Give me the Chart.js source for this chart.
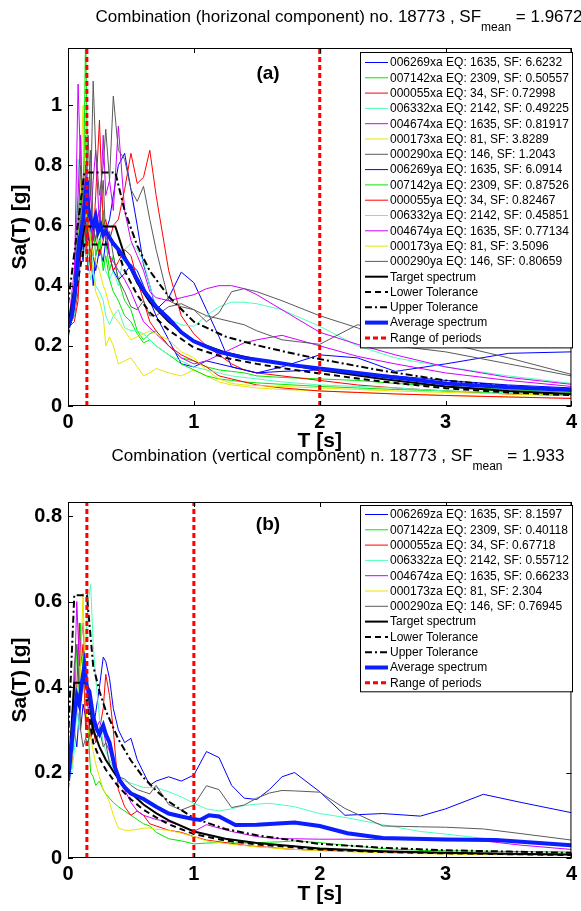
<!DOCTYPE html>
<html>
<head>
<meta charset="utf-8">
<script src="https://cdn.jsdelivr.net/npm/chart.js@4.4.1/dist/chart.umd.min.js"></script>
<style>
  html, body { margin: 0; padding: 0; background: #fff; width: 581px; height: 911px; overflow: hidden; }
  canvas { position: absolute; left: 0; }
  #c1 { top: 0; }
  #c2 { top: 440px; }
</style>
</head>
<body>
<canvas id="c1" width="581" height="455"></canvas>
<canvas id="c2" width="581" height="471"></canvas>
<script>
// ---- horizontal component (a) ----
var periodsH = [0, 0.05, 0.08, 0.1, 0.12, 0.14, 0.16, 0.18, 0.2, 0.22, 0.25, 0.28, 0.3, 0.33, 0.36, 0.4, 0.45, 0.5, 0.55, 0.6, 0.65, 0.7, 0.8, 0.9, 1.0, 1.1, 1.2, 1.3, 1.4, 1.5, 1.7, 2.0, 2.3, 2.6, 3.0, 3.5, 4.0];

var sa006269xa = [0.26,0.30,0.42,0.55,0.48,0.62,0.45,0.52,0.40,0.50,0.55,0.60,0.58,0.62,0.70,0.80,0.84,0.72,0.60,0.47,0.40,0.32,0.36,0.445,0.41,0.32,0.23,0.13,0.12,0.11,0.13,0.17,0.16,0.115,0.14,0.175,0.18];
var sa007142xa = [0.27,0.32,0.45,0.6,0.75,0.9,0.7,0.6,0.55,0.62,0.5,0.65,0.55,0.45,0.5,0.42,0.35,0.32,0.25,0.22,0.24,0.25,0.2,0.16,0.15,0.13,0.12,0.115,0.11,0.1,0.095,0.09,0.085,0.075,0.065,0.055,0.045];
var sa000055xa = [0.26,0.3,0.38,0.5,0.65,0.55,0.6,0.5,0.55,0.7,0.95,0.6,0.62,0.55,0.6,0.62,0.72,0.84,0.74,0.76,0.85,0.7,0.45,0.3,0.24,0.2,0.17,0.14,0.12,0.11,0.1,0.085,0.07,0.06,0.05,0.04,0.035];
var sa006332xa = [0.26,0.35,0.82,0.6,0.55,0.7,0.5,0.55,0.45,0.5,0.55,0.48,0.45,0.42,0.45,0.4,0.52,0.54,0.52,0.48,0.4,0.33,0.29,0.27,0.265,0.3,0.33,0.345,0.345,0.34,0.32,0.265,0.2,0.16,0.13,0.1,0.075];
var sa004674xa = [0.26,0.4,1.07,0.8,0.65,0.75,0.55,0.6,0.75,0.85,0.6,0.9,0.7,0.75,0.65,0.93,0.65,0.55,0.5,0.45,0.38,0.36,0.35,0.36,0.37,0.39,0.4,0.4,0.39,0.37,0.32,0.245,0.205,0.17,0.13,0.095,0.072];
var sa000173xa = [0.26,0.35,0.5,0.75,1.0,0.7,0.55,0.5,0.45,0.38,0.35,0.3,0.2,0.23,0.2,0.14,0.15,0.16,0.13,0.1,0.11,0.125,0.11,0.1,0.12,0.1,0.08,0.07,0.065,0.06,0.055,0.05,0.045,0.04,0.035,0.03,0.027];
var sa000290xa = [0.26,0.38,0.6,0.8,0.65,0.75,0.9,0.7,1.08,0.85,0.7,0.8,0.92,0.75,1.03,0.85,0.82,0.72,0.68,0.73,0.62,0.52,0.35,0.33,0.32,0.28,0.31,0.38,0.39,0.38,0.35,0.3,0.26,0.2,0.18,0.14,0.1];
var sa006269ya = [0.26,0.32,0.48,0.6,0.52,0.7,0.55,0.6,0.5,0.45,0.52,0.48,0.55,0.5,0.45,0.42,0.44,0.47,0.45,0.4,0.35,0.3,0.22,0.14,0.13,0.15,0.14,0.13,0.12,0.11,0.115,0.12,0.11,0.1,0.085,0.07,0.06];
var sa007142ya = [0.26,0.35,0.5,0.7,0.6,1.25,0.65,0.55,0.6,0.5,0.55,0.45,0.5,0.42,0.38,0.35,0.3,0.28,0.24,0.21,0.22,0.2,0.17,0.14,0.12,0.1,0.09,0.085,0.08,0.077,0.072,0.065,0.06,0.055,0.05,0.042,0.035];
var sa000055ya = [0.26,0.28,0.35,0.55,0.7,0.5,0.62,0.45,0.6,0.55,0.5,0.55,0.6,0.5,0.45,0.48,0.52,0.5,0.42,0.35,0.28,0.25,0.2,0.17,0.15,0.13,0.1,0.09,0.08,0.07,0.06,0.05,0.045,0.04,0.035,0.03,0.025];
var sa006332ya = [0.26,0.3,0.42,0.55,0.6,0.5,0.48,0.42,0.45,0.4,0.38,0.35,0.3,0.27,0.3,0.32,0.26,0.25,0.25,0.24,0.22,0.2,0.17,0.15,0.13,0.12,0.11,0.1,0.095,0.09,0.08,0.07,0.065,0.06,0.05,0.045,0.04];
var sa004674ya = [0.26,0.45,0.7,0.9,0.6,0.8,0.65,0.7,0.55,0.6,0.65,0.55,0.6,0.5,0.48,0.45,0.42,0.38,0.33,0.28,0.26,0.24,0.2,0.16,0.14,0.15,0.17,0.19,0.21,0.22,0.235,0.2,0.165,0.14,0.11,0.085,0.065];
var sa000173ya = [0.26,0.33,0.45,0.6,0.75,0.65,0.6,0.55,0.5,0.48,0.45,0.4,0.38,0.33,0.3,0.28,0.25,0.22,0.23,0.24,0.25,0.24,0.22,0.18,0.16,0.12,0.09,0.075,0.07,0.068,0.065,0.06,0.055,0.05,0.045,0.04,0.035];
var sa000290ya = [0.26,0.32,0.5,0.62,0.75,0.55,0.65,0.85,0.6,0.55,0.62,0.75,0.55,0.58,0.5,0.42,0.38,0.33,0.32,0.35,0.3,0.3,0.33,0.34,0.32,0.3,0.29,0.28,0.27,0.25,0.22,0.205,0.27,0.25,0.21,0.16,0.105];

var labelsH = [
  '006269xa EQ: 1635, SF: 6.6232', '007142xa EQ: 2309, SF: 0.50557', '000055xa EQ: 34, SF: 0.72998',
  '006332xa EQ: 2142, SF: 0.49225', '004674xa EQ: 1635, SF: 0.81917', '000173xa EQ: 81, SF: 3.8289',
  '000290xa EQ: 146, SF: 1.2043', '006269ya EQ: 1635, SF: 6.0914', '007142ya EQ: 2309, SF: 0.87526',
  '000055ya EQ: 34, SF: 0.82467', '006332ya EQ: 2142, SF: 0.45851', '004674ya EQ: 1635, SF: 0.77134',
  '000173ya EQ: 81, SF: 3.5096', '000290ya EQ: 146, SF: 0.80659'
];
var recordsH = [sa006269xa, sa007142xa, sa000055xa, sa006332xa, sa004674xa, sa000173xa, sa000290xa,
                sa006269ya, sa007142ya, sa000055ya, sa006332ya, sa004674ya, sa000173ya, sa000290ya];

var targetT_H = [0, 0.13, 0.376, 0.45, 0.55, 0.65, 0.8, 1.0, 1.25, 1.5, 1.75, 2.0, 2.5, 3.0, 3.5, 4.0];
var targetH   = [0.26, 0.597, 0.597, 0.5, 0.41, 0.345, 0.28, 0.215, 0.178, 0.155, 0.137, 0.12, 0.09, 0.065, 0.05, 0.04];
var lowerH    = [0.234, 0.537, 0.537, 0.45, 0.369, 0.311, 0.252, 0.194, 0.16, 0.14, 0.123, 0.108, 0.081, 0.059, 0.045, 0.036];
var upperH    = [0.338, 0.776, 0.776, 0.65, 0.533, 0.449, 0.364, 0.28, 0.231, 0.202, 0.178, 0.156, 0.117, 0.085, 0.065, 0.052];

var avgT_H = [0, 0.03, 0.05, 0.07, 0.09, 0.1, 0.12, 0.14, 0.15, 0.16, 0.18, 0.2, 0.22, 0.24, 0.26, 0.28, 0.3, 0.33, 0.36, 0.4, 0.45, 0.5, 0.55, 0.6, 0.7, 0.8, 0.9, 1.0, 1.2, 1.4, 1.6, 1.8, 2.0, 2.5, 3.0, 3.5, 4.0];
var avgH   = [0.26, 0.3, 0.36, 0.45, 0.55, 0.57, 0.62, 0.7, 0.75, 0.66, 0.62, 0.6, 0.63, 0.58, 0.6, 0.57, 0.58, 0.56, 0.54, 0.52, 0.49, 0.46, 0.42, 0.385, 0.33, 0.29, 0.245, 0.215, 0.18, 0.16, 0.148, 0.135, 0.125, 0.1, 0.075, 0.062, 0.053];

var rangeH = [0.15, 2.0];
var yMaxH = 1.19;
var yTicksH = [0, 0.2, 0.4, 0.6, 0.8, 1];

// ---- vertical component (b) ----
var periodsV = [0, 0.03, 0.05, 0.07, 0.09, 0.1, 0.12, 0.14, 0.16, 0.18, 0.2, 0.22, 0.25, 0.28, 0.3, 0.33, 0.36, 0.4, 0.45, 0.5, 0.55, 0.6, 0.65, 0.7, 0.8, 0.9, 1.0, 1.1, 1.2, 1.3, 1.4, 1.5, 1.6, 1.7, 1.8, 2.0, 2.2, 2.5, 2.8, 3.0, 3.3, 3.6, 4.0];

var sa006269za = [0.18,0.22,0.3,0.26,0.34,0.3,0.36,0.33,0.3,0.32,0.3,0.34,0.4,0.47,0.46,0.42,0.35,0.3,0.27,0.28,0.23,0.2,0.17,0.18,0.19,0.18,0.194,0.249,0.235,0.17,0.14,0.137,0.16,0.19,0.2,0.155,0.1,0.104,0.098,0.115,0.149,0.13,0.106];
var sa007142za = [0.18,0.25,0.35,0.5,0.38,0.55,0.42,0.35,0.3,0.2,0.19,0.17,0.18,0.16,0.15,0.14,0.13,0.12,0.11,0.1,0.09,0.08,0.075,0.06,0.045,0.04,0.033,0.035,0.036,0.035,0.035,0.036,0.037,0.038,0.04,0.036,0.03,0.022,0.018,0.017,0.016,0.015,0.014];
var sa000055za = [0.18,0.22,0.3,0.4,0.55,0.45,0.5,0.3,0.33,0.28,0.3,0.27,0.3,0.35,0.43,0.38,0.3,0.16,0.12,0.1,0.11,0.1,0.08,0.075,0.065,0.06,0.05,0.042,0.038,0.034,0.03,0.027,0.025,0.022,0.02,0.018,0.016,0.014,0.012,0.011,0.01,0.009,0.008];
var sa006332za = [0.18,0.2,0.25,0.35,0.3,0.38,0.45,0.5,0.6,0.64,0.5,0.42,0.33,0.27,0.25,0.23,0.21,0.19,0.18,0.175,0.17,0.165,0.165,0.165,0.155,0.143,0.128,0.115,0.11,0.115,0.123,0.126,0.128,0.124,0.12,0.104,0.095,0.078,0.062,0.056,0.046,0.037,0.026];
var sa004674za = [0.18,0.25,0.4,0.6,0.45,0.5,0.55,0.42,0.35,0.36,0.34,0.3,0.32,0.3,0.27,0.25,0.22,0.19,0.16,0.13,0.11,0.1,0.095,0.09,0.085,0.075,0.062,0.078,0.07,0.062,0.056,0.05,0.047,0.045,0.045,0.044,0.044,0.043,0.043,0.042,0.04,0.03,0.02];
var sa000173za = [0.18,0.22,0.3,0.4,0.35,0.45,0.62,0.35,0.3,0.28,0.25,0.22,0.19,0.16,0.15,0.13,0.1,0.07,0.065,0.065,0.067,0.07,0.07,0.067,0.065,0.058,0.05,0.04,0.036,0.032,0.029,0.026,0.024,0.022,0.02,0.017,0.015,0.012,0.01,0.009,0.008,0.007,0.006];
var sa000290za = [0.18,0.3,0.45,0.5,0.4,0.3,0.26,0.28,0.27,0.3,0.32,0.28,0.3,0.26,0.27,0.22,0.2,0.19,0.185,0.17,0.16,0.155,0.15,0.17,0.125,0.112,0.124,0.169,0.16,0.118,0.124,0.14,0.152,0.158,0.157,0.154,0.116,0.075,0.073,0.072,0.068,0.057,0.042];

var labelsV = [
  '006269za EQ: 1635, SF: 8.1597', '007142za EQ: 2309, SF: 0.40118', '000055za EQ: 34, SF: 0.67718',
  '006332za EQ: 2142, SF: 0.55712', '004674za EQ: 1635, SF: 0.66233', '000173za EQ: 81, SF: 2.304',
  '000290za EQ: 146, SF: 0.76945'
];
var recordsV = [sa006269za, sa007142za, sa000055za, sa006332za, sa004674za, sa000173za, sa000290za];

var targetT_V = [0, 0.05, 0.15, 0.2, 0.25, 0.3, 0.4, 0.5, 0.6, 0.7, 0.8, 1.0, 1.25, 1.5, 2.0, 2.5, 3.0, 3.5, 4.0];
var targetV   = [0.18, 0.41, 0.41, 0.3, 0.26, 0.23, 0.185, 0.152, 0.125, 0.105, 0.088, 0.062, 0.045, 0.035, 0.022, 0.016, 0.012, 0.01, 0.008];
var lowerV    = [0.162, 0.369, 0.369, 0.27, 0.234, 0.207, 0.167, 0.137, 0.113, 0.095, 0.079, 0.056, 0.041, 0.032, 0.02, 0.014, 0.011, 0.009, 0.007];
var upperV    = [0.27, 0.615, 0.615, 0.45, 0.39, 0.345, 0.278, 0.228, 0.188, 0.158, 0.132, 0.093, 0.068, 0.053, 0.033, 0.024, 0.018, 0.015, 0.012];

var avgT_V = [0, 0.03, 0.05, 0.07, 0.09, 0.11, 0.13, 0.15, 0.17, 0.2, 0.23, 0.25, 0.28, 0.3, 0.33, 0.37, 0.41, 0.45, 0.5, 0.6, 0.7, 0.8, 0.9, 1.0, 1.05, 1.12, 1.2, 1.33, 1.5, 1.8, 2.0, 2.22, 2.5, 3.0, 3.4, 4.0];
var avgV   = [0.18, 0.27, 0.33, 0.38, 0.36, 0.41, 0.45, 0.4, 0.39, 0.33, 0.3, 0.29, 0.31, 0.29, 0.27, 0.215, 0.182, 0.165, 0.151, 0.138, 0.12, 0.104, 0.097, 0.091, 0.089, 0.1, 0.097, 0.077, 0.078, 0.083, 0.075, 0.058, 0.047, 0.043, 0.042, 0.03];

var rangeV = [0.15, 1.0];
var yMaxV = 0.833;
var yTicksV = [0, 0.2, 0.4, 0.6, 0.8];

var xTicks = [0, 1, 2, 3, 4];
var recColors = ['#0000ff', '#00e600', '#ff0000', '#4dffb8', '#cc00ff', '#e6e600', '#5a5a5a'];

Chart.defaults.font.family = '"Liberation Sans", Arial, sans-serif';

function pts(xs, ys) {
  return xs.map(function (x, i) { return { x: x, y: ys[i] }; });
}

function buildDatasets(T, records, labels, tT, target, lower, upper, aT, avg, range, yMax) {
  var ds = [];
  records.forEach(function (r, i) {
    ds.push({ label: labels[i], data: pts(T, r), borderColor: recColors[i % 7], borderWidth: 1, order: 100 - i });
  });
  ds.push({ label: 'Target spectrum', data: pts(tT, target), borderColor: '#000', borderWidth: 2, order: 4 });
  ds.push({ label: 'Lower Tolerance', data: pts(tT, lower), borderColor: '#000', borderWidth: 2, borderDash: [6, 4], order: 3 });
  ds.push({ label: 'Upper Tolerance', data: pts(tT, upper), borderColor: '#000', borderWidth: 2, borderDash: [7, 3, 2, 3], order: 2 });
  ds.push({ label: 'Average spectrum', data: pts(aT, avg), borderColor: '#0a1eff', borderWidth: 4, order: 1 });
  range.forEach(function (t, i) {
    ds.push({ label: 'Range of periods', data: [{ x: t, y: 0 }, { x: t, y: yMax }], borderColor: '#ff0000',
              borderWidth: 3, borderDash: [5, 3], order: 0, noLegend: i > 0 });
  });
  return ds;
}

function drawTitle(ctx, parts, cx, base) {
  var big = '17px "Liberation Sans"', small = '12px "Liberation Sans"';
  ctx.textAlign = 'left';
  ctx.textBaseline = 'alphabetic';
  ctx.font = big;
  var w1 = ctx.measureText(parts[0]).width, w3 = ctx.measureText(parts[2]).width;
  ctx.font = small;
  var w2 = ctx.measureText(parts[1]).width;
  var x = cx - (w1 + w2 + w3) / 2;
  ctx.font = big; ctx.fillText(parts[0], x, base);
  ctx.font = small; ctx.fillText(parts[1], x + w1, base + 9);
  ctx.font = big; ctx.fillText(parts[2], x + w1 + w2, base);
}

var framePlugin = {
  id: 'frame',
  afterDraw: function (chart) {
    var o = chart.options.plugins.frame;
    var ctx = chart.ctx, a = chart.chartArea;
    var xs = chart.scales.x, ys = chart.scales.y;
    ctx.save();
    ctx.setLineDash([]);
    ctx.strokeStyle = '#000';
    ctx.lineWidth = 1;
    ctx.strokeRect(a.left + 0.5, a.top + 0.5, a.right - a.left - 1, a.bottom - a.top - 1);
    ctx.beginPath();
    xs.ticks.forEach(function (t) {
      var px = Math.round(xs.getPixelForValue(t.value)) + 0.5;
      ctx.moveTo(px, a.bottom); ctx.lineTo(px, a.bottom - 5);
      ctx.moveTo(px, a.top); ctx.lineTo(px, a.top + 5);
    });
    ys.ticks.forEach(function (t) {
      var py = Math.round(ys.getPixelForValue(t.value)) + 0.5;
      ctx.moveTo(a.left, py); ctx.lineTo(a.left + 5, py);
      ctx.moveTo(a.right, py); ctx.lineTo(a.right - 5, py);
    });
    ctx.stroke();

    ctx.fillStyle = '#000';
    ctx.textAlign = 'center';
    ctx.textBaseline = 'middle';
    ctx.font = 'bold 19px "Liberation Sans"';
    ctx.fillText(o.panel, o.panelX, o.panelY);
    ctx.font = 'bold 21px "Liberation Sans"';
    ctx.fillText('T [s]', (a.left + a.right) / 2, o.xTitleY);
    ctx.save();
    ctx.translate(20, (a.top + a.bottom) / 2);
    ctx.rotate(-Math.PI / 2);
    ctx.fillText('Sa(T) [g]', 0, 0);
    ctx.restore();

    drawTitle(ctx, o.title, o.titleX, o.titleY);

    // legend box
    var lg = o.legend;
    var items = chart.data.datasets.filter(function (d) { return !d.noLegend; });
    var h = lg.first + (items.length - 1) * lg.row + lg.first - 1;
    ctx.fillStyle = '#fff';
    ctx.fillRect(lg.x, lg.y, lg.w, h);
    ctx.lineWidth = 1;
    ctx.strokeStyle = '#000';
    ctx.strokeRect(lg.x + 0.5, lg.y + 0.5, lg.w, h);
    ctx.font = '12px "Liberation Sans"';
    ctx.textAlign = 'left';
    ctx.textBaseline = 'middle';
    items.forEach(function (d, i) {
      var y = lg.y + lg.first + i * lg.row;
      ctx.strokeStyle = d.borderColor;
      ctx.lineWidth = d.borderWidth;
      ctx.setLineDash(d.borderDash || []);
      ctx.beginPath();
      ctx.moveTo(lg.x + 5, y);
      ctx.lineTo(lg.x + 28, y);
      ctx.stroke();
      ctx.fillStyle = '#000';
      ctx.fillText(d.label, lg.x + 30, y + 0.5);
    });
    ctx.restore();
  }
};

function makeChart(id, datasets, yMax, yTicks, plotTop, xAxisH, frame) {
  return new Chart(document.getElementById(id), {
    type: 'line',
    data: { datasets: datasets },
    options: {
      responsive: false,
      animation: false,
      layout: { padding: { top: plotTop, right: 5, left: 0, bottom: 0 } },
      elements: { point: { radius: 0 }, line: { tension: 0 } },
      scales: {
        x: {
          type: 'linear', min: 0, max: 4,
          grid: { display: false, drawTicks: false, tickLength: 0 }, border: { display: false },
          afterBuildTicks: function (s) { s.ticks = xTicks.map(function (v) { return { value: v }; }); },
          afterFit: function (s) { s.height = xAxisH; },
          ticks: { color: '#000', font: { size: 20, weight: 'bold' }, padding: 4, maxRotation: 0,
                   callback: function (v) { return String(v); } }
        },
        y: {
          type: 'linear', min: 0, max: yMax,
          grid: { display: false, drawTicks: false, tickLength: 0 }, border: { display: false },
          afterBuildTicks: function (s) { s.ticks = yTicks.map(function (v) { return { value: v }; }); },
          afterFit: function (s) { s.width = 68; },
          ticks: { color: '#000', font: { size: 20, weight: 'bold' }, padding: 6,
                   callback: function (v) { return String(v); } }
        }
      },
      plugins: { legend: { display: false }, tooltip: { enabled: false }, frame: frame }
    },
    plugins: [framePlugin]
  });
}

makeChart('c1',
  buildDatasets(periodsH, recordsH, labelsH, targetT_H, targetH, lowerH, upperH, avgT_H, avgH, rangeH, yMaxH),
  yMaxH, yTicksH, 48, 455 - 406,
  { panel: '(a)', panelX: 268, panelY: 74, xTitleY: 441,
    title: ['Combination (horizonal component) no. 18773 , SF', 'mean', ' = 1.9672'], titleX: 339, titleY: 22,
    legend: { x: 360, y: 52, w: 212, first: 10.5, row: 15.3 } });

makeChart('c2',
  buildDatasets(periodsV, recordsV, labelsV, targetT_V, targetV, lowerV, upperV, avgT_V, avgV, rangeV, yMaxV),
  yMaxV, yTicksV, 62, 471 - 418,
  { panel: '(b)', panelX: 268, panelY: 85, xTitleY: 454,
    title: ['Combination (vertical component) n. 18773 , SF', 'mean', ' = 1.933'], titleX: 338, titleY: 21,
    legend: { x: 360, y: 65, w: 212, first: 9.5, row: 15.3 } });
</script>
</body>
</html>
